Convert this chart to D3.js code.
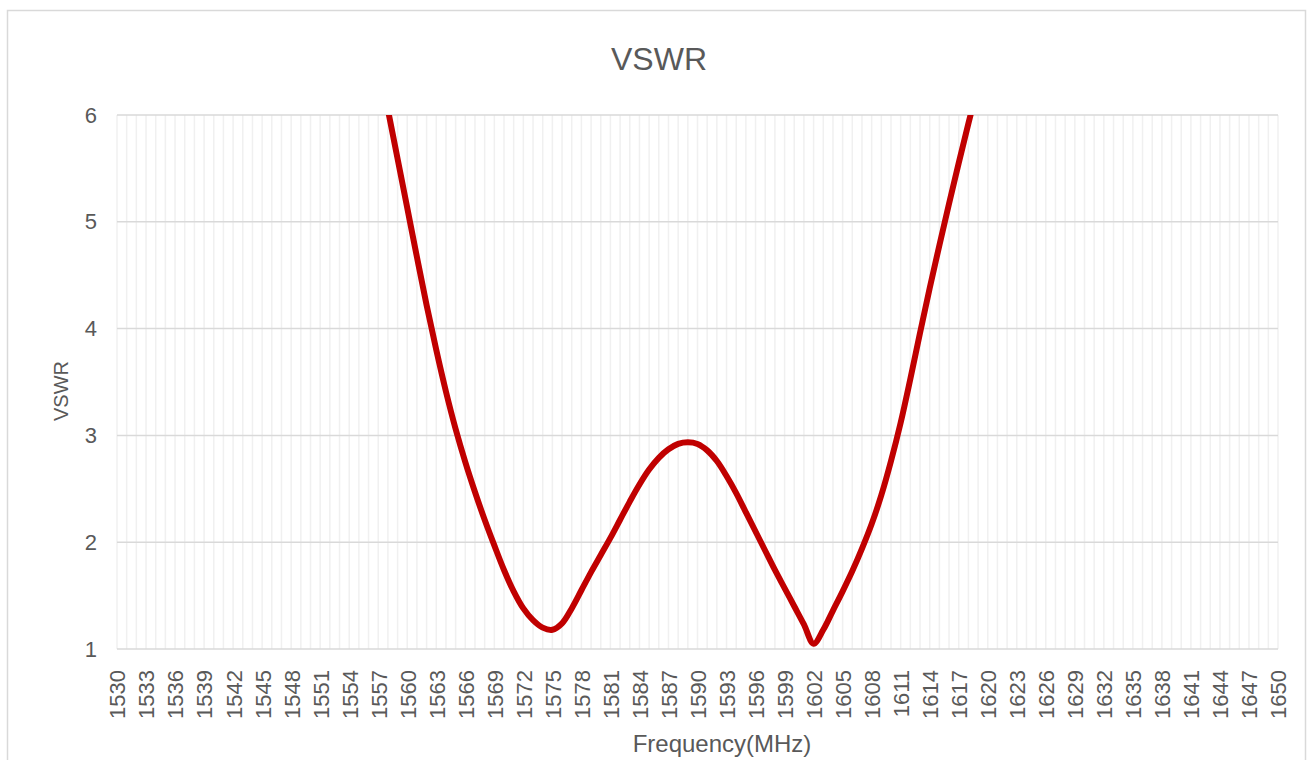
<!DOCTYPE html>
<html>
<head>
<meta charset="utf-8">
<script src="https://cdn.jsdelivr.net/npm/d3@7"></script>
<style>
  body { margin: 0; background: #fff; }
  text { font-family: "Liberation Sans", Arial, sans-serif; fill: #595959; }
</style>
</head>
<body>
<div id="chart"></div>
<script>
// VSWR readings, one per MHz (the curve runs off the top of the plot at both ends)
var freqs = [1557, 1558, 1559, 1560, 1561, 1562, 1563, 1564, 1565, 1566,
  1567, 1568, 1569, 1570, 1571, 1572, 1573, 1574, 1575, 1576,
  1577, 1578, 1579, 1580, 1581, 1582, 1583, 1584, 1585, 1586,
  1587, 1588, 1589, 1590, 1591, 1592, 1593, 1594, 1595, 1596,
  1597, 1598, 1599, 1600, 1601, 1602, 1603, 1604, 1605, 1606,
  1607, 1608, 1609, 1610, 1611, 1612, 1613, 1614, 1615, 1616,
  1617, 1618, 1619];
var vswr = [6.50, 6.05, 5.59, 5.13, 4.67, 4.22, 3.80, 3.41, 3.06, 2.75,
  2.47, 2.21, 1.97, 1.74, 1.54, 1.38, 1.27, 1.20, 1.18, 1.24,
  1.38, 1.55, 1.72, 1.88, 2.04, 2.21, 2.38, 2.54, 2.68, 2.79,
  2.87, 2.92, 2.935, 2.92, 2.86, 2.76, 2.62, 2.46, 2.28, 2.10,
  1.92, 1.74, 1.57, 1.40, 1.23, 1.05, 1.18, 1.36, 1.54, 1.73,
  1.94, 2.17, 2.44, 2.76, 3.12, 3.53, 3.96, 4.38, 4.78, 5.17,
  5.55, 5.92, 6.28];
var yTicks = [1, 2, 3, 4, 5, 6];
var xTicks = d3.range(1530, 1651, 3);
var xMinor = d3.range(1530, 1651, 1);

var svgWidth = 1309;
var svgHeight = 760;
var margin = { top: 115, right: 31, bottom: 111, left: 117 };
var width = svgWidth - margin.left - margin.right;
var height = svgHeight - margin.top - margin.bottom;

var svg = d3.select("#chart")
  .append("svg")
  .attr("width", svgWidth)
  .attr("height", svgHeight);

// chart border
svg.append("rect")
  .attr("x", 7.5)
  .attr("y", 10.5)
  .attr("width", 1298)
  .attr("height", 800)
  .attr("fill", "none")
  .attr("stroke", "#d9d9d9")
  .attr("stroke-width", 1.5);

var chartGroup = svg.append("g")
  .attr("transform", `translate(${margin.left}, ${margin.top})`);

var x = d3.scaleLinear().domain([1530, 1650]).range([0, width]);
var y = d3.scaleLinear().domain([1, 6]).range([height, 0]);

// light vertical gridlines every MHz
chartGroup.append("g")
  .selectAll("line")
  .data(xMinor)
  .enter()
  .append("line")
  .attr("x1", d => x(d))
  .attr("x2", d => x(d))
  .attr("y1", 0)
  .attr("y2", height)
  .attr("stroke", "#f0f0f0")
  .attr("stroke-width", 1.5);

// horizontal gridlines
chartGroup.append("g")
  .selectAll("line")
  .data(yTicks)
  .enter()
  .append("line")
  .attr("x1", 0)
  .attr("x2", width)
  .attr("y1", d => y(d))
  .attr("y2", d => y(d))
  .attr("stroke", "#d9d9d9")
  .attr("stroke-width", 1.5);

// y axis labels
var leftAxis = d3.axisLeft(y).tickValues(yTicks).tickSize(0).tickPadding(20).tickFormat(d3.format("d"));
chartGroup.append("g")
  .call(leftAxis)
  .call(g => g.select(".domain").remove())
  .selectAll("text")
  .style("font-size", "22px")
  .attr("fill", "#595959");

// x axis labels, rotated
var bottomAxis = d3.axisBottom(x).tickValues(xTicks).tickSize(0).tickFormat(d3.format("d"));
var xAxis = chartGroup.append("g")
  .attr("transform", `translate(0, ${height})`)
  .call(bottomAxis);
xAxis.select(".domain").remove();
xAxis.selectAll("text")
  .style("font-size", "22px")
  .attr("fill", "#595959")
  .attr("text-anchor", "end")
  .attr("transform", "rotate(-90)")
  .attr("x", -21)
  .attr("y", 0)
  .attr("dy", "0.36em");

svg.append("defs").append("clipPath")
  .attr("id", "plotClip")
  .append("rect")
  .attr("x", -5)
  .attr("y", 0)
  .attr("width", width + 10)
  .attr("height", height + 5);

var line = d3.line()
  .x((d, i) => x(freqs[i]))
  .y(d => y(d))
  .curve(d3.curveCatmullRom.alpha(0.5));

chartGroup.append("path")
  .datum(vswr)
  .attr("clip-path", "url(#plotClip)")
  .attr("d", line)
  .attr("fill", "none")
  .attr("stroke", "#c00000")
  .attr("stroke-width", 6)
  .attr("stroke-linejoin", "round")
  .attr("stroke-linecap", "round");

// title and axis titles
svg.append("text")
  .attr("x", 659)
  .attr("y", 70)
  .attr("text-anchor", "middle")
  .style("font-size", "32px")
  .text("VSWR");

svg.append("text")
  .attr("transform", "translate(68, 391) rotate(-90)")
  .attr("text-anchor", "middle")
  .style("font-size", "20px")
  .text("VSWR");

svg.append("text")
  .attr("x", 722)
  .attr("y", 752)
  .attr("text-anchor", "middle")
  .style("font-size", "24px")
  .text("Frequency(MHz)");
</script>
</body>
</html>
